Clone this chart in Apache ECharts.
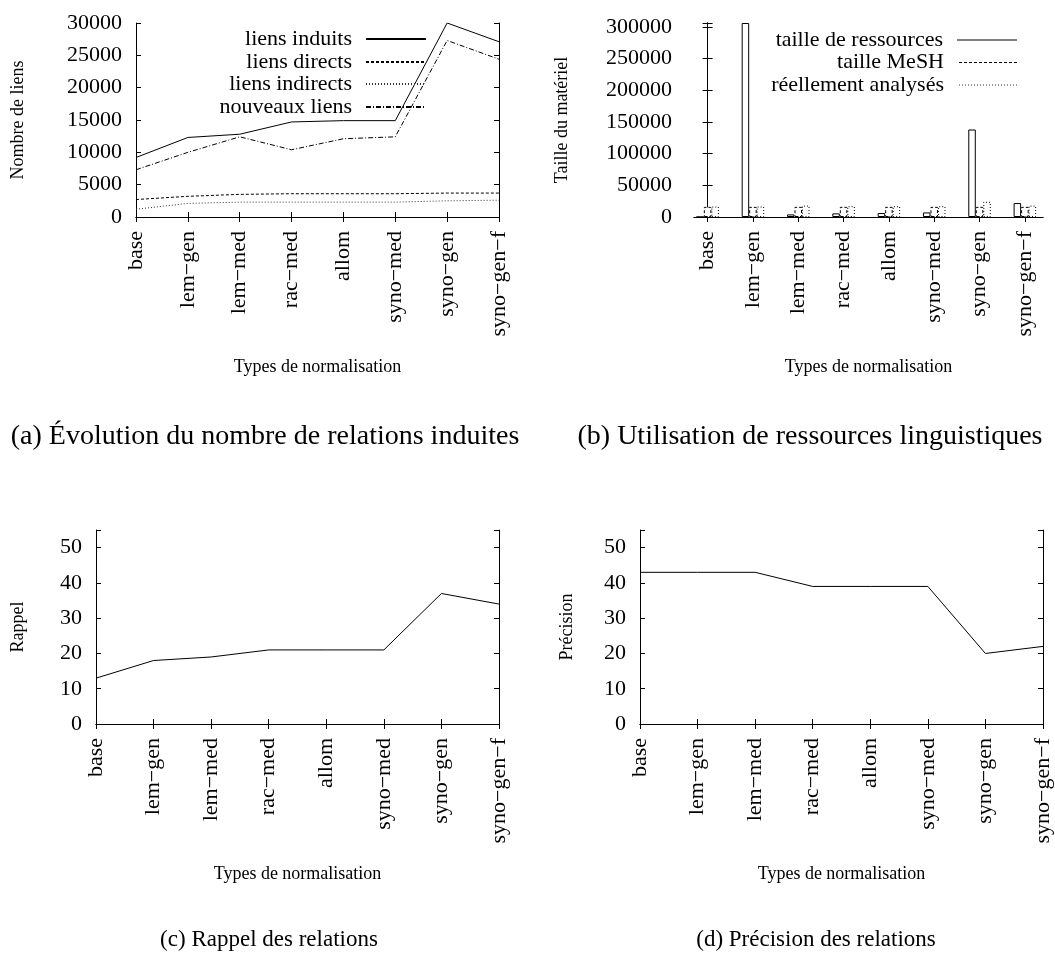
<!DOCTYPE html>
<html><head><meta charset="utf-8">
<script src="https://cdn.jsdelivr.net/npm/echarts@6/dist/echarts.min.js"></script>
<style>html,body{margin:0;padding:0;background:#fff}#c{width:1055px;height:954px}</style>
</head><body><div id="c"></div>
<script>
// ---- data ----
const categories = ['base','lem\u2212gen','lem\u2212med','rac\u2212med','allom','syno\u2212med','syno\u2212gen','syno\u2212gen\u2212f'];
const liensInduits   = [9200, 12300, 12800, 14700, 14900, 14900, 30000, 27100];
const liensDirects   = [2700, 3200, 3500, 3600, 3600, 3600, 3700, 3700];
const liensIndirects = [1200, 2100, 2300, 2300, 2300, 2300, 2500, 2600];
const nouveauxLiens  = [7300, 10000, 12400, 10400, 12100, 12400, 27300, 24400];
const tailleRessources = [0, 306000, 4100, 5700, 6300, 7200, 138000, 22000];
const tailleMesh       = [16000, 16000, 16000, 16000, 16000, 16000, 16000, 16000];
const reellementAnalyses = [16500, 16500, 18000, 17000, 17000, 17000, 24000, 18000];
const rappel    = [13, 18, 19, 21, 21, 21, 37, 34];
const precision = [43, 43, 43, 39, 39, 39, 20, 22];
const captions = ['(a) \u00c9volution du nombre de relations induites', '(b) Utilisation de ressources linguistiques', '(c) Rappel des relations', '(d) Pr\u00e9cision des relations'];

// ---- styles ----
const FONT = 'Liberation Serif';
const BLACK = '#000';
const tickFont = {fontSize: 22, fontFamily: FONT, color: BLACK};
const nameFont = {fontSize: 18, fontFamily: FONT, color: BLACK};
const axLine = {show: true, lineStyle: {color: BLACK, width: 1}};
const axTick = {show: true, inside: true, length: 5, lineStyle: {color: BLACK, width: 1}};

const grids = [
  {left: 136, top: 23, width: 363, height: 194},
  {left: 694, top: 23, width: 349, height: 194},
  {left: 96, top: 530, width: 403, height: 194},
  {left: 640, top: 530, width: 403, height: 194}
];

function catX(g, show) {
  return {
    gridIndex: g, type: 'category', data: categories, boundaryGap: false,
    position: show ? 'bottom' : 'top',
    axisLine: axLine, axisTick: Object.assign({interval: 0}, axTick),
    axisLabel: show ? Object.assign({show: true, rotate: 90, margin: 14, interval: 0}, tickFont) : {show: false},
    splitLine: {show: false},
    name: show ? 'Types de normalisation' : '', nameLocation: 'middle', nameGap: 141, nameTextStyle: nameFont
  };
}
function valY(g, show, min, max, interval, step, name, gap, margin) {
  return {
    gridIndex: g, type: 'value', min: min, max: max, interval: interval,
    position: show ? 'left' : 'right',
    axisLine: axLine, axisTick: axTick,
    axisLabel: show ? Object.assign({show: true, margin: margin, formatter: v => (v % step === 0 ? String(v) : '')}, tickFont) : {show: false},
    splitLine: {show: false},
    name: show ? name : '', nameLocation: 'middle', nameGap: gap, nameTextStyle: nameFont
  };
}
function bX(show) {
  const idx = categories.map((c, i) => i);
  return {
    gridIndex: 1, type: 'value', min: -0.3, max: 7.4,
    position: show ? 'bottom' : 'top',
    axisLine: axLine, axisTick: Object.assign({customValues: idx}, axTick),
    axisLabel: show ? Object.assign({show: true, rotate: 90, margin: 14, customValues: idx, formatter: v => categories[Math.round(v)]}, tickFont) : {show: false},
    splitLine: {show: false},
    name: show ? 'Types de normalisation' : '', nameLocation: 'middle', nameGap: 141, nameTextStyle: nameFont
  };
}

const xAxes = [catX(0, true), catX(0, false), bX(true), bX(false), catX(2, true), catX(2, false), catX(3, true), catX(3, false)];
const yAxes = [
  valY(0, true, 0, 30000, 5000, 5000, 'Nombre de liens', 109, 14), valY(0, false, 0, 30000, 5000, 5000),
  valY(1, true, 0, 306000, 50000, 50000, 'Taille du mat\u00e9riel', 123, 22), valY(1, false, 0, 306000, 50000, 50000),
  valY(2, true, 0, 55, 10, 10, 'Rappel', 69, 14), valY(2, false, 0, 55, 10, 10),
  valY(3, true, 0, 55, 10, 10, 'Pr\u00e9cision', 64, 14), valY(3, false, 0, 55, 10, 10)
];

function lineSeries(name, data, xi, yi, type, color) {
  return {name: name, type: 'line', xAxisIndex: xi, yAxisIndex: yi, data: data, symbol: 'none',
    lineStyle: {color: color || BLACK, width: 1, type: type || 'solid'}, itemStyle: {color: color || BLACK}};
}
function barSeries(name, data, type) {
  return {name: name, type: 'bar', xAxisIndex: 2, yAxisIndex: 2,
    data: data.map((v, i) => [i, v]), barWidth: 7.5, barGap: '0%',
    itemStyle: {color: '#fff', borderColor: BLACK, borderWidth: 1, borderType: type}};
}

const series = [
  lineSeries('liens induits', liensInduits, 0, 0, 'solid'),
  lineSeries('liens directs', liensDirects, 0, 0, [3, 2]),
  lineSeries('liens indirects', liensIndirects, 0, 0, [1, 2], '#333'),
  lineSeries('nouveaux liens', nouveauxLiens, 0, 0, [5, 2, 1, 2]),
  barSeries('taille de ressources', tailleRessources, 'solid'),
  barSeries('taille MeSH', tailleMesh, [3, 2]),
  barSeries('r\u00e9ellement analys\u00e9s', reellementAnalyses, [1, 2]),
  lineSeries('Rappel', rappel, 4, 4, 'solid'),
  lineSeries('Pr\u00e9cision', precision, 6, 6, 'solid')
];

// dashed icon shape for the bar legends (style only)
function dashIcon(on, off) {
  let d = '';
  for (let x = 0; x < 60; x += on + off) {
    const w = Math.min(on, 60 - x);
    d += 'M' + x + ',0h' + w + 'v1h-' + w + 'z';
  }
  return 'path://' + d;
}
const legText = {fontSize: 22, fontFamily: FONT, color: BLACK, padding: [0, 9, 0, 0]};
function legLine(name, top) {
  return {
    data: [name], right: 628, top: top, orient: 'vertical', align: 'right', padding: 0,
    itemWidth: 60, itemHeight: 14, selectedMode: false,
    itemStyle: {opacity: 0},
    textStyle: legText
  };
}
function legBar(name, top, icon, color) {
  return {
    data: [name], right: 38, top: top, orient: 'vertical', align: 'right', padding: 0,
    itemWidth: 60, itemHeight: 1, selectedMode: false, icon: icon,
    itemStyle: {color: color, borderWidth: 0},
    textStyle: legText
  };
}
const legends = [
  legLine('liens induits', 28), legLine('liens directs', 51), legLine('liens indirects', 73), legLine('nouveaux liens', 96),
  legBar('taille de ressources', 29, 'rect', BLACK),
  legBar('taille MeSH', 51.5, dashIcon(3, 2), BLACK),
  legBar('r\u00e9ellement analys\u00e9s', 74, dashIcon(1, 2), '#333')
];

const capPos = [[265, 437], [810, 437], [269, 940], [816, 940]];
const capSize = [28, 28, 23, 23];
const graphic = captions.map((t, i) => ({
  type: 'text', x: capPos[i][0], y: capPos[i][1], silent: true,
  style: {text: t, font: capSize[i] + 'px "Liberation Serif"', fill: BLACK, align: 'center', verticalAlign: 'middle'}
}));

const chart = echarts.init(document.getElementById('c'));
chart.setOption({
  animation: false,
  backgroundColor: '#fff',
  textStyle: {fontFamily: FONT},
  grid: grids,
  xAxis: xAxes,
  yAxis: yAxes,
  legend: legends,
  series: series,
  graphic: graphic
});
</script></body></html>
